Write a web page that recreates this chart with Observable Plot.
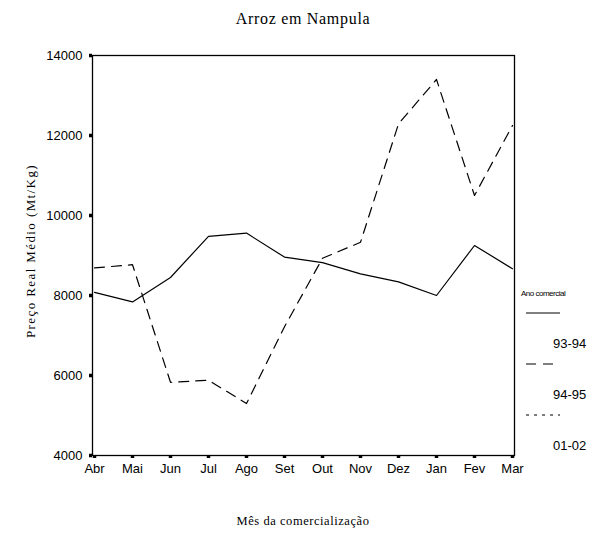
<!DOCTYPE html>
<html>
<head>
<meta charset="utf-8">
<script src="https://cdn.jsdelivr.net/npm/d3@7"></script>
<script src="https://cdn.jsdelivr.net/npm/@observablehq/plot@0.6"></script>
<style>
  html, body { margin: 0; padding: 0; background: #fff; }
  #chart { width: 604px; height: 533px; }
</style>
</head>
<body>
<div id="chart"></div>
<script>
const months = ["Abr","Mai","Jun","Jul","Ago","Set","Out","Nov","Dez","Jan","Fev","Mar"];
const s9394 = [8080, 7840, 8450, 9480, 9560, 8960, 8820, 8540, 8340, 8000, 9250, 8670];
const s9495 = [8690, 8770, 5830, 5880, 5300, 7220, 8930, 9330, 12290, 13400, 10500, 12250];
const s0102 = []; // shown in legend only; no values visible in the plot
const seriesNames = ["93-94", "94-95", "01-02"];
const seriesDash = ["none", "10,7", "3,5"];
const yTicks = [4000, 6000, 8000, 10000, 12000, 14000];
const titleText = "Arroz em Nampula";
const yLabel = "Preço Real Médio (Mt/Kg)";
const xLabel = "Mês da comercialização";
const legendTitle = "Ano comercial";

const seriesValues = [s9394, s9495, s0102];
const rows = [];
seriesValues.forEach((vals, si) => vals.forEach((v, i) => rows.push({series: seriesNames[si], month: months[i], value: v})));

const tickFont = "'Liberation Sans', Arial, sans-serif";
const serif = "'Liberation Serif', 'Times New Roman', serif";

const plot = Plot.plot({
  width: 604,
  height: 533,
  marginLeft: 92,
  marginRight: 90,
  marginTop: 55,
  marginBottom: 78,
  style: {fontFamily: tickFont, fontSize: "13px", color: "#000", background: "#fff"},
  x: {type: "point", domain: months, padding: 0},
  y: {domain: [4000, 14000]},
  marks: [
    Plot.frame({stroke: "#000", strokeWidth: 1.3}),
    Plot.axisY({ticks: yTicks, tickSize: 3, tickPadding: 7, strokeWidth: 3.5, tickFormat: d => String(d), label: null, fontSize: 13}),
    Plot.axisX({tickSize: 3, tickPadding: 5, strokeWidth: 3.5, label: null, fontSize: 13}),
    ...seriesNames.map((name, si) => Plot.line(rows.filter(r => r.series === name), {
      x: "month", y: "value", stroke: "#000", strokeWidth: 1.2,
      strokeDasharray: seriesDash[si] === "none" ? null : seriesDash[si]
    }))
  ]
});

document.getElementById("chart").appendChild(plot);
const svg = d3.select(plot);

svg.append("text").text(titleText)
  .attr("x", 303).attr("y", 24).attr("text-anchor", "middle")
  .style("font-family", serif).style("font-size", "16px").style("letter-spacing", "0.7px").attr("fill", "#000");

svg.append("text").text(yLabel)
  .attr("transform", "translate(35,251) rotate(-90)").attr("text-anchor", "middle")
  .style("font-family", serif).style("font-size", "13px").style("letter-spacing", "1.4px").attr("fill", "#000");

svg.append("text").text(xLabel)
  .attr("x", 303).attr("y", 525).attr("text-anchor", "middle")
  .style("font-family", serif).style("font-size", "12.5px").style("letter-spacing", "0.55px").attr("fill", "#000");

// Legend
const lg = svg.append("g").attr("text-anchor", "start");
lg.append("text").text(legendTitle)
  .attr("x", 521).attr("y", 296).attr("text-anchor", "start")
  .style("font-family", tickFont).style("font-size", "8px").style("letter-spacing", "-0.5px").attr("fill", "#000");
seriesNames.forEach((name, i) => {
  const y0 = 313 + i * 51;
  lg.append("line").attr("x1", 526).attr("x2", 560).attr("y1", y0).attr("y2", y0)
    .attr("stroke", "#000").attr("stroke-width", 1.2)
    .attr("stroke-dasharray", seriesDash[i] === "none" ? null : seriesDash[i]);
  lg.append("text").text(name).attr("x", 553).attr("y", y0 + 35).attr("text-anchor", "start")
    .style("font-family", tickFont).style("font-size", "13px").attr("fill", "#000");
});
</script>
</body>
</html>
